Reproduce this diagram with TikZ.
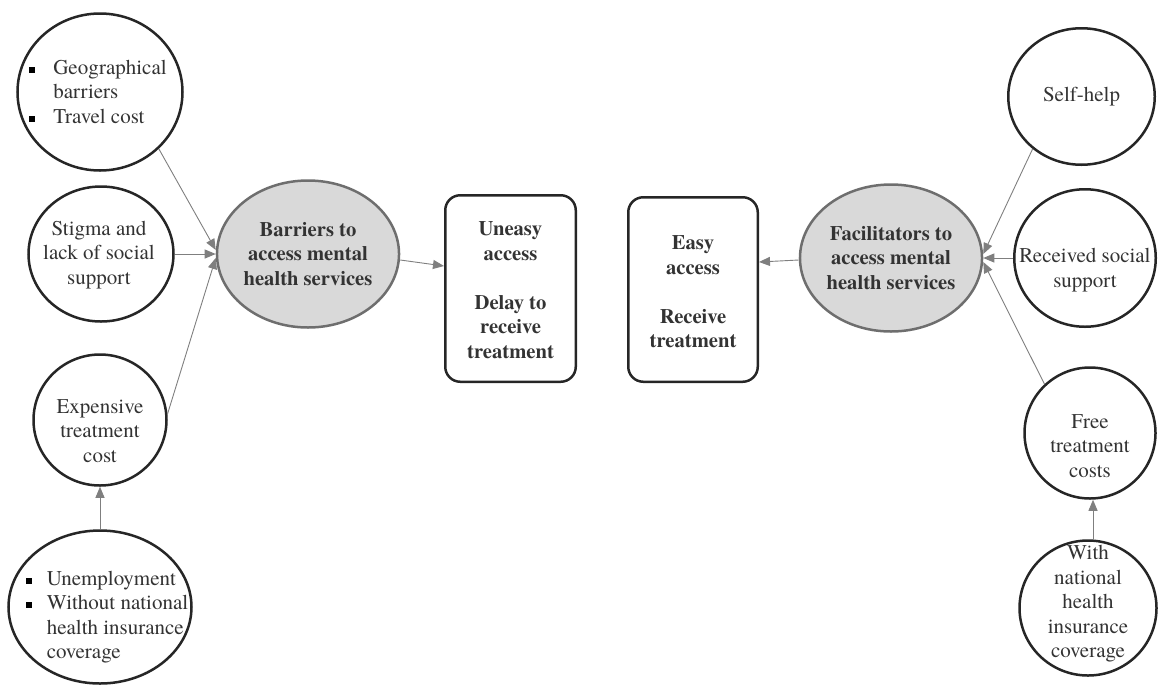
\documentclass[tikz,border=0pt]{standalone}
\usepackage{fontspec}
\setmainfont{texgyretermes}[Extension=.otf, UprightFont=*-regular, BoldFont=*-bold, ItalicFont=*-italic, BoldItalicFont=*-bolditalic]
\usetikzlibrary{arrows.meta,calc,shapes.geometric}
\definecolor{txtc}{HTML}{333333}
\definecolor{ringc}{HTML}{262626}
\definecolor{greyfill}{HTML}{D9D9D9}
\definecolor{greyring}{HTML}{6E6E6E}
\definecolor{linkc}{HTML}{7F7F7F}
\newcommand{\bul}{\textcolor{black}{\rule[1.5pt]{6pt}{6pt}}}
\begin{document}
\begin{tikzpicture}[x=1pt,y=-1pt,
  every node/.style={font=\fontsize{21}{24.5}\selectfont, text=txtc},
  circ/.style args={#1/#2}{ellipse, draw=ringc, line width=2.5pt, inner sep=0pt, fill=white,
     minimum width=#1pt, minimum height=#2pt},
  hub/.style={ellipse, draw=greyring, line width=2.5pt, fill=greyfill, inner sep=0pt,
     minimum width=150pt, minimum height=147pt, align=center, font=\fontsize{20.6}{24.5}\selectfont\bfseries},
  outbox/.style={draw=ringc, line width=2.5pt, rounded corners=15pt, inner sep=0pt, align=center},
  boldtxt/.style={align=center, inner sep=0pt, font=\fontsize{20.6}{24.5}\selectfont\bfseries},
  lbl/.style={align=center, inner sep=0pt},
  link/.style={draw=linkc, line width=0.9pt, -{Triangle[length=11pt,width=9pt]}, color=linkc}
]
\useasboundingbox (0,0) rectangle (1158,686);

% left side
\node[circ=165/157] (geo) at (100,92) {};
\node[lbl, align=left] (geot) at (98,94) {\begin{tabular}{@{}p{24pt}@{}l@{}}\bul & Geographical\\ & barriers\\ \bul & Travel cost\end{tabular}};
\node[circ=145/135] (stig) at (101,254) {};
\node[lbl] (stigt) at (99,255) {Stigma and\\lack of social\\support};
\node[circ=133/131] (exp) at (100,420) {};
\node[lbl] (expt) at (100,431) {Expensive\\treatment\\cost};
\node[circ=183/153] (unemp) at (100,607) {};
\node[lbl, align=left] (unempt) at (107,617) {\begin{tabular}{@{}p{21pt}@{}l@{}}\bul & Unemployment\\ \bul & Without national\\ & health insurance\\ & coverage\end{tabular}};

\node[hub] (barr) at (308,254) {Barriers to\\access mental\\health services};

% middle boxes
\node[outbox, minimum width=130.5pt, minimum height=186.5pt] (uneasy) at (510.5,288.5) {};
\node[boldtxt] (uneasyt) at (510.5,290) {Uneasy\\access\\[24.5pt]Delay to\\receive\\treatment};
\node[outbox, minimum width=129.5pt, minimum height=184.5pt] (easy) at (693,289.5) {};
\node[boldtxt] (easyt) at (693,292) {Easy\\access\\[24.5pt]Receive\\treatment};

% right side
\node[hub] (fac) at (891,258) {Facilitators to\\access mental\\health services};
\node[circ=146.5/136.5] (self) at (1081.5,96.5) {};
\node[lbl] (selft) at (1081.5,97) {Self-help};
\node[circ=141.5/137.5] (rss) at (1085,258) {};
\node[lbl] (rsst) at (1085,270) {Received social\\support};
\node[circ=131/131] (free) at (1090,433) {};
\node[lbl] (freet) at (1090,446) {Free\\treatment\\costs};
\node[circ=137/135] (with) at (1088,608) {};
\node[lbl] (witht) at (1088,604) {With\\national\\health\\insurance\\coverage};

% connectors left
\draw[link] (geo.-44) -- ($(barr.west)+(0,-4)$);
\draw[link] (stig.east) -- (barr.west);
\draw[link] (exp.5) -- ($(barr.west)+(0,4)$);
\draw[link] (unemp.north) -- (exp.south);
\draw[link] ($(barr.east)+(0,6)$) -- ($(uneasy.west)+(0,-22.5)$);

% connectors right
\draw[link] (self.-133) -- ($(fac.east)+(0,-4)$);
\draw[link] (rss.west) -- (fac.east);
\draw[link] (free.133) -- ($(fac.east)+(0,4)$);
\draw[link] (with.north -| 1093,0) -- (1093,0 |- free.south);
\draw[link] ($(fac.west)+(0,2)$) -- ($(easy.east)+(0,-27.5)$);
\end{tikzpicture}
\end{document}
